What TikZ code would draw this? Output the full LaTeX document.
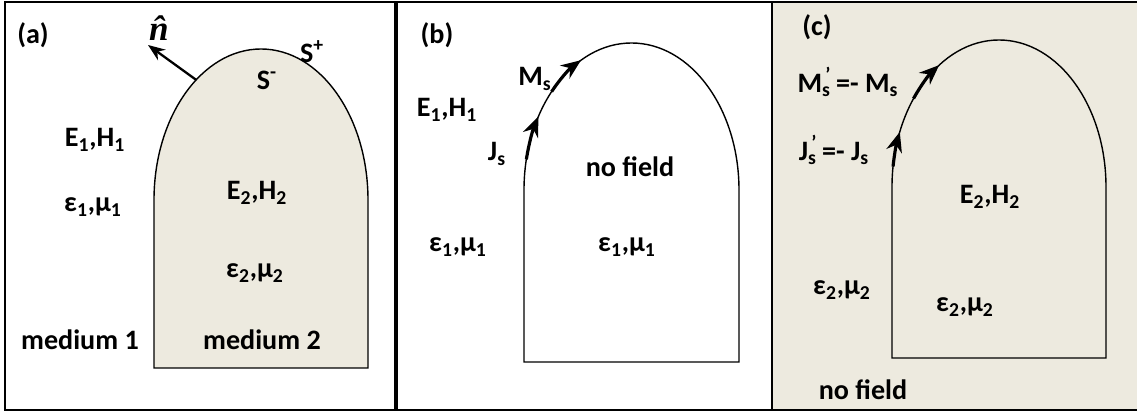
\documentclass[tikz,border=0pt]{standalone}
\usepackage{amsmath}
\usepackage{fontspec}
\setmainfont{Carlito}
\newfontfamily\hatfont{Liberation Serif}
\usetikzlibrary{arrows.meta, positioning}
\definecolor{beige}{RGB}{237,234,223}

\begin{document}
\begin{tikzpicture}[
      x=0.02cm, y=0.02cm,
      lbl/.style={inner sep=1pt, font=\fontsize{16}{19}\selectfont\bfseries},
      frame/.style={draw, line width=0.9pt},
      body/.style={draw, line width=0.8pt},
      ar/.style={-{Stealth[length=3.4mm, width=2.6mm]}, line width=1.3pt},
      cur/.style={-{Stealth[length=4mm, width=3.2mm]}, line width=1.8pt}
    ]
    \useasboundingbox (0,0) rectangle (1137,412);
    % frames
    \draw[frame] (5,2) rectangle (395,410);
    \draw[frame] (397,2) rectangle (772,410);
    \draw[frame, fill=beige] (772,2) rectangle (1142,410);
    % (a)
    \coordinate (ca) at (261,212);
    \draw[body, fill=beige] (154,44) -- (154,212) arc[start angle=180, end angle=0, x radius=107, y radius=151] -- (368,44) -- cycle;
    \coordinate (na) at ([shift={(127.3:107 and 151)}]ca);
    \coordinate (nt) at (148,367);
    \draw[ar] (na) -- (nt);
    \node[lbl] (la) at (33,377) {(a)};
    \node[lbl] (nhat) at (159,384) {\hatfont\bfseries\itshape\fontsize{20}{22}\selectfont \^{n}};
    \node[lbl] (splus) at (312,360) {S\textsuperscript{+}};
    \node[lbl] (sminus) at (267,332) {S\textsuperscript{-}};
    \node[lbl] (ehone) at (95,272) {E\textsubscript{1},H\textsubscript{1}};
    \node[lbl] (emone) at (93,205) {ε\textsubscript{1},μ\textsubscript{1}};
    \node[lbl] (ehtwo) at (257,219) {E\textsubscript{2},H\textsubscript{2}};
    \node[lbl] (emtwo) at (255,139) {ε\textsubscript{2},μ\textsubscript{2}};
    \node[lbl] (medone) at (80,72) {medium 1};
    \node[lbl] (medtwo) at (262,72) {medium 2};
    % (b)
    \coordinate (cb) at (631.5,222);
    \draw[body] (524,50) -- (524,222) arc[start angle=180, end angle=0, x radius=107.5, y radius=147] -- (739,50) -- cycle;
    \draw[cur] ([shift={(168:107.5 and 147)}]cb) arc[start angle=168, end angle=150, x radius=107.5, y radius=147];
    \draw[cur] ([shift={(138:107.5 and 147)}]cb) arc[start angle=138, end angle=118, x radius=107.5, y radius=147];
    \node[lbl] (lb) at (437,377) {(b)};
    \node[lbl] (msb) at (535,333) {M\textsubscript{s}};
    \node[lbl] (ehb) at (447,302) {E\textsubscript{1},H\textsubscript{1}};
    \node[lbl] (jsb) at (497,258) {J\textsubscript{s}};
    \node[lbl] (nfb) at (630,245) {no field};
    \node[lbl] (emb) at (458,165) {ε\textsubscript{1},μ\textsubscript{1}};
    \node[lbl] (embin) at (627,165) {ε\textsubscript{1},μ\textsubscript{1}};
    % (c)
    \coordinate (cc) at (999,225);
    \draw[body] (892,54) -- (892,225) arc[start angle=180, end angle=0, x radius=107, y radius=147] -- (1106,54) -- cycle;
    \draw[cur] ([shift={(172:107 and 147)}]cc) arc[start angle=172, end angle=158, x radius=107, y radius=147];
    \draw[cur] ([shift={(143:107 and 147)}]cc) arc[start angle=143, end angle=124, x radius=107, y radius=147];
    \node[lbl] (lc) at (817,385) {(c)};
    \node[lbl] (msc) at (848,330) {M\rlap{\textsubscript{s}}\textsuperscript{\,’}\,=- M\textsubscript{s}};
    \node[lbl] (jsc) at (834,262) {J\rlap{\textsubscript{s}}\textsuperscript{\,’}\,=- J\textsubscript{s}};
    \node[lbl] (ehc) at (990,215) {E\textsubscript{2},H\textsubscript{2}};
    \node[lbl] (emc) at (842,122) {ε\textsubscript{2},μ\textsubscript{2}};
    \node[lbl] (emcin) at (965,105) {ε\textsubscript{2},μ\textsubscript{2}};
    \node[lbl] (nfc) at (863,22) {no field};
  \end{tikzpicture}
\end{document}
